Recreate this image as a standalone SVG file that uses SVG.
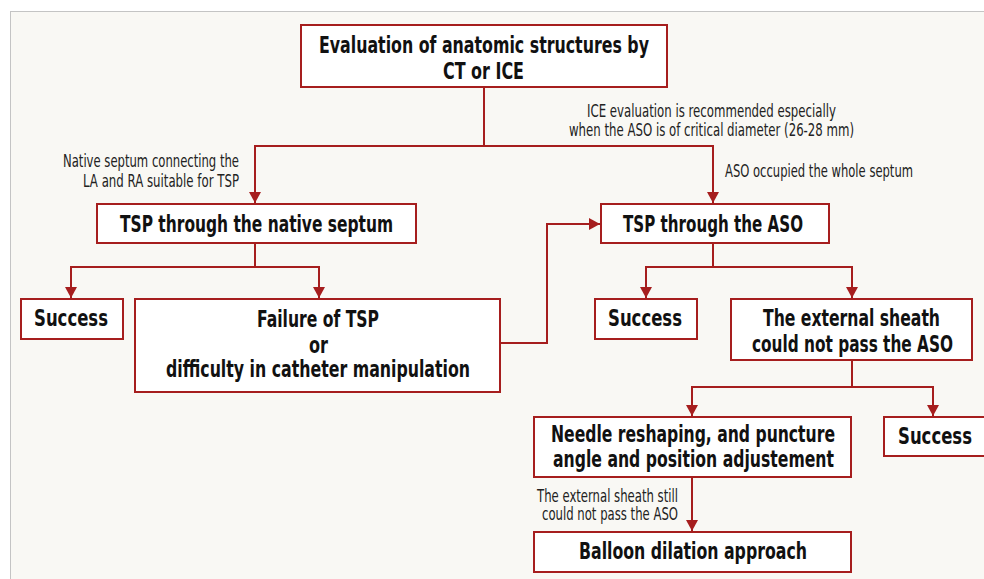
<svg xmlns="http://www.w3.org/2000/svg" width="984" height="579" viewBox="0 0 984 579">
<style>
.box{fill:#ffffff;stroke:#a61e1e;stroke-width:2}
.con{fill:none;stroke:#a61e1e;stroke-width:2}
.b{font-family:"Liberation Sans Narrow","DejaVu Sans Condensed","Liberation Sans",Arial,sans-serif;font-stretch:condensed;font-weight:bold;font-size:23px;fill:#111}
.s{font-family:"Liberation Sans Narrow","DejaVu Sans Condensed","Liberation Sans",Arial,sans-serif;font-stretch:condensed;font-size:17px;fill:#222}
</style>
<defs>
<marker id="ah" markerUnits="userSpaceOnUse" markerWidth="12" markerHeight="12" refX="11" refY="6" orient="auto">
<path d="M0,0 L11,6 L0,12 z" fill="#a61e1e"/>
</marker>
</defs>
<rect x="0" y="0" width="984" height="579" fill="#ffffff"/>
<rect x="10.5" y="11.5" width="990" height="580" fill="#f9f8f4" stroke="#c4c4c4" stroke-width="1"/>

<g id="connectors">
<polyline class="con" points="484,87 484,146 255,146 255,203" marker-end="url(#ah)"/>
<polyline class="con" points="484,146 713,146 713,203" marker-end="url(#ah)"/>
<polyline class="con" points="255,243 255,267 71,267 71,298" marker-end="url(#ah)"/>
<polyline class="con" points="255,267 319,267 319,298" marker-end="url(#ah)"/>
<polyline class="con" points="500,343 547,343 547,224 600,224" marker-end="url(#ah)"/>
<polyline class="con" points="713,243 713,267 646,267 646,298" marker-end="url(#ah)"/>
<polyline class="con" points="713,267 852,267 852,298" marker-end="url(#ah)"/>
<polyline class="con" points="852,360 852,387 692,387 692,416" marker-end="url(#ah)"/>
<polyline class="con" points="852,387 933,387 933,416" marker-end="url(#ah)"/>
<polyline class="con" points="692,477 692,531" marker-end="url(#ah)"/>
<text class="s" x="63" y="167" textLength="176" lengthAdjust="spacingAndGlyphs">Native septum connecting the</text>
<text class="s" x="83" y="187" textLength="156" lengthAdjust="spacingAndGlyphs">LA and RA suitable for TSP</text>
<text class="s" x="587" y="117" textLength="249" lengthAdjust="spacingAndGlyphs">ICE evaluation is recommended especially</text>
<text class="s" x="569" y="136" textLength="285" lengthAdjust="spacingAndGlyphs">when the ASO is of critical diameter (26-28 mm)</text>
<text class="s" x="725" y="177" textLength="188" lengthAdjust="spacingAndGlyphs">ASO occupied the whole septum</text>
<text class="s" x="537" y="502" textLength="141" lengthAdjust="spacingAndGlyphs">The external sheath still</text>
<text class="s" x="542" y="520" textLength="136" lengthAdjust="spacingAndGlyphs">could not pass the ASO</text>
</g>

<g id="eval">
<rect class="box" x="301" y="25" width="366" height="62"/>
<text class="b" x="319" y="53" textLength="330" lengthAdjust="spacingAndGlyphs">Evaluation of anatomic structures by</text>
<text class="b" x="443" y="79" textLength="81" lengthAdjust="spacingAndGlyphs">CT or ICE</text>
</g>
<g id="tsp-native">
<rect class="box" x="97" y="204" width="319" height="39"/>
<text class="b" x="120" y="232" textLength="273" lengthAdjust="spacingAndGlyphs">TSP through the native septum</text>
</g>
<g id="success-1">
<rect class="box" x="21" y="299" width="102" height="40"/>
<text class="b" x="34" y="326" textLength="74" lengthAdjust="spacingAndGlyphs">Success</text>
</g>
<g id="failure">
<rect class="box" x="135" y="299" width="365" height="93"/>
<text class="b" x="257" y="327" textLength="122" lengthAdjust="spacingAndGlyphs">Failure of TSP</text>
<text class="b" x="309" y="353" textLength="19" lengthAdjust="spacingAndGlyphs">or</text>
<text class="b" x="166" y="377" textLength="304" lengthAdjust="spacingAndGlyphs">difficulty in catheter manipulation</text>
</g>
<g id="tsp-aso">
<rect class="box" x="601" y="204" width="228" height="39"/>
<text class="b" x="623" y="232" textLength="180" lengthAdjust="spacingAndGlyphs">TSP through the ASO</text>
</g>
<g id="success-2">
<rect class="box" x="595" y="299" width="102" height="40"/>
<text class="b" x="608" y="326" textLength="74" lengthAdjust="spacingAndGlyphs">Success</text>
</g>
<g id="sheath">
<rect class="box" x="731" y="299" width="241" height="61"/>
<text class="b" x="763" y="326" textLength="177" lengthAdjust="spacingAndGlyphs">The external sheath</text>
<text class="b" x="752" y="352" textLength="201" lengthAdjust="spacingAndGlyphs">could not pass the ASO</text>
</g>
<g id="needle">
<rect class="box" x="534" y="417" width="317" height="60"/>
<text class="b" x="551" y="442" textLength="284" lengthAdjust="spacingAndGlyphs">Needle reshaping, and puncture</text>
<text class="b" x="553" y="467" textLength="281" lengthAdjust="spacingAndGlyphs">angle and position adjustement</text>
</g>
<g id="success-3">
<rect class="box" x="884" y="417" width="104" height="39"/>
<text class="b" x="898" y="444" textLength="74" lengthAdjust="spacingAndGlyphs">Success</text>
</g>
<g id="balloon">
<rect class="box" x="534" y="532" width="317" height="40"/>
<text class="b" x="579" y="559" textLength="228" lengthAdjust="spacingAndGlyphs">Balloon dilation approach</text>
</g>
</svg>
